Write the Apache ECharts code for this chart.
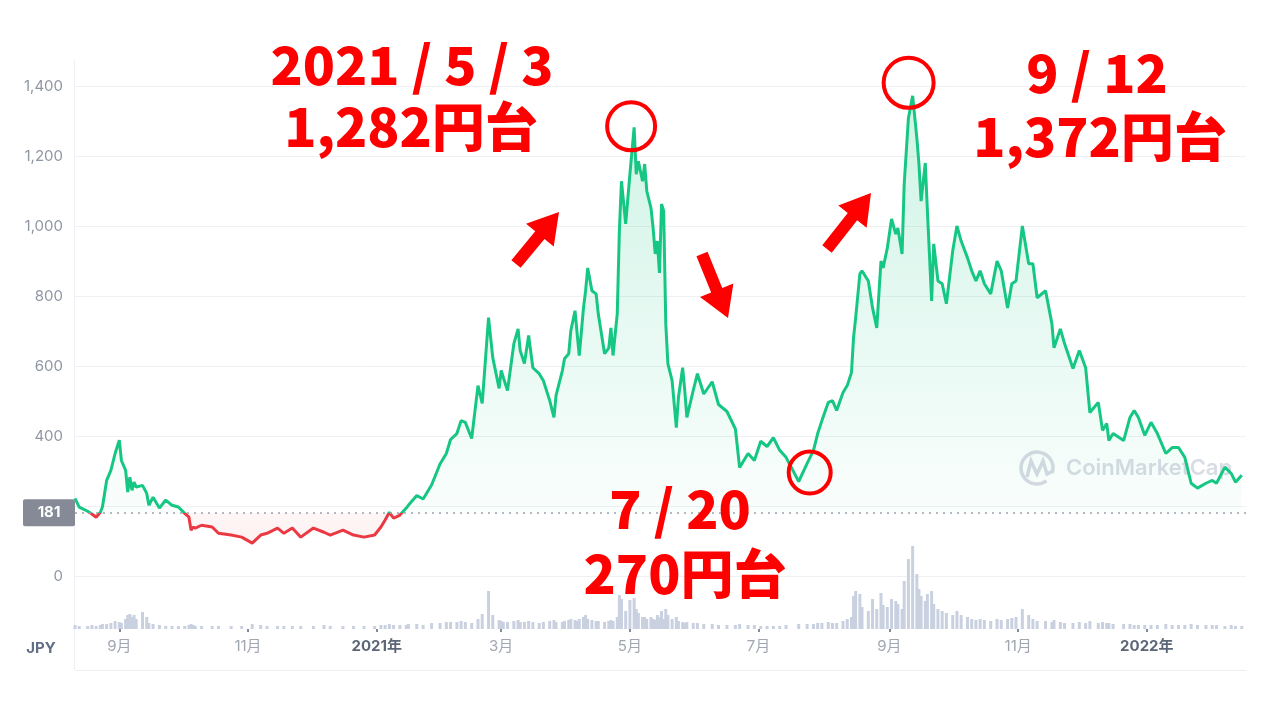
<!DOCTYPE html>
<html><head><meta charset="utf-8">
<script src="https://cdn.jsdelivr.net/npm/echarts@6/dist/echarts.min.js"></script>
<style>html,body{margin:0;padding:0;background:#fff}#c{width:1280px;height:720px}</style>
</head><body><div id="c"></div>
<script>
const dates = [
'2020-08-11','2020-08-13','2020-08-17','2020-08-19','2020-08-21','2020-08-23','2020-08-24','2020-08-26','2020-08-28','2020-08-30',
'2020-09-01','2020-09-02','2020-09-04','2020-09-05','2020-09-06','2020-09-07','2020-09-08','2020-09-09','2020-09-12','2020-09-14','2020-09-15','2020-09-17',
'2020-09-20','2020-09-23','2020-09-26','2020-09-29','2020-10-02','2020-10-04',
'2020-10-05','2020-10-06','2020-10-07','2020-10-10','2020-10-15','2020-10-18','2020-10-24','2020-10-29','2020-11-03','2020-11-07','2020-11-10','2020-11-15','2020-11-18','2020-11-22','2020-11-26','2020-12-02','2020-12-07','2020-12-10','2020-12-16','2020-12-21','2020-12-26','2020-12-31',
'2021-01-03','2021-01-05','2021-01-07','2021-01-09','2021-01-12','2021-01-15','2021-01-16','2021-01-20','2021-01-23','2021-01-27','2021-01-31','2021-02-03','2021-02-05','2021-02-08',
'2021-02-10','2021-02-12','2021-02-15','2021-02-18','2021-02-20','2021-02-23','2021-02-25','2021-02-28','2021-03-01','2021-03-02','2021-03-04',
'2021-03-07','2021-03-09','2021-03-10','2021-03-12','2021-03-14','2021-03-16','2021-03-19','2021-03-21','2021-03-24','2021-03-26','2021-03-27','2021-03-30','2021-03-31','2021-04-02','2021-04-03','2021-04-05','2021-04-06','2021-04-07','2021-04-09','2021-04-10','2021-04-11','2021-04-13','2021-04-15','2021-04-16','2021-04-19','2021-04-21','2021-04-22','2021-04-23','2021-04-25',
'2021-04-26','2021-04-27','2021-04-29','2021-05-01','2021-05-03','2021-05-04','2021-05-05','2021-05-07','2021-05-08','2021-05-09','2021-05-11','2021-05-12','2021-05-13','2021-05-14','2021-05-15','2021-05-16','2021-05-17',
'2021-05-18','2021-05-19','2021-05-21','2021-05-23','2021-05-24','2021-05-26','2021-05-27','2021-05-28','2021-05-31','2021-06-02',
'2021-06-05','2021-06-09','2021-06-12','2021-06-16','2021-06-20','2021-06-22','2021-06-26','2021-06-29','2021-07-02','2021-07-05','2021-07-08','2021-07-11','2021-07-14','2021-07-20',
'2021-07-24','2021-07-27','2021-07-29','2021-07-31','2021-08-03','2021-08-05','2021-08-07','2021-08-10','2021-08-12','2021-08-14','2021-08-15','2021-08-16',
'2021-08-18','2021-08-19','2021-08-22','2021-08-24','2021-08-26','2021-08-28','2021-08-29','2021-08-31','2021-09-02','2021-09-04','2021-09-05','2021-09-07','2021-09-08','2021-09-10',
'2021-09-12','2021-09-14','2021-09-15','2021-09-16','2021-09-18','2021-09-19','2021-09-21','2021-09-22','2021-09-24','2021-09-26','2021-09-28',
'2021-10-01','2021-10-03','2021-10-05','2021-10-08','2021-10-10','2021-10-12','2021-10-14','2021-10-16','2021-10-19','2021-10-22','2021-10-24','2021-10-27','2021-10-29','2021-10-31',
'2021-11-03','2021-11-06','2021-11-08','2021-11-10','2021-11-14','2021-11-17','2021-11-18','2021-11-21','2021-11-23','2021-11-27','2021-11-30','2021-12-03',
'2021-12-05','2021-12-09','2021-12-11','2021-12-13','2021-12-14','2021-12-16','2021-12-21','2021-12-24','2021-12-26','2021-12-28','2021-12-31',
'2022-01-03','2022-01-06','2022-01-10','2022-01-13','2022-01-16','2022-01-19','2022-01-22','2022-01-25','2022-01-29','2022-02-01','2022-02-03','2022-02-07','2022-02-10','2022-02-12','2022-02-15'
];
const prices = [
222,197,185,177,168,182,197,273,302,350,
388,330,302,240,282,245,268,254,259,236,202,225,
194,217,202,197,179,168,
131,140,137,145,140,122,117,111,94,117,122,137,122,137,111,137,125,117,131,117,111,117,
140,160,182,165,174,194,202,230,220,260,320,350,390,407,
444,439,393,544,493,738,624,536,587,567,530,
664,706,644,607,687,595,578,558,501,453,516,587,621,635,701,758,692,630,766,815,880,815,806,749,635,652,709,630,749,
986,1128,1006,1148,1282,1148,1185,1128,1177,1100,1051,994,920,957,866,1063,1043,
721,607,558,424,510,595,530,453,530,578,
520,555,490,470,420,310,350,330,385,370,395,359,339,270,
322,359,407,444,496,501,473,524,544,581,681,738,
863,872,843,766,709,900,880,937,1020,977,994,920,1120,1308,
1372,1251,1177,1071,1180,1043,786,949,843,835,778,
929,1000,957,909,872,843,872,835,806,900,872,766,835,843,
1000,892,892,795,815,721,652,706,664,593,644,595,
467,496,416,436,387,407,387,453,473,453,402,
439,407,350,367,367,339,265,251,265,273,265,311,293,268,288
];
const volumes = [
4,3,3,4,3,4,5,5,6,8,
7,6,10,14,15,12,14,10,17,12,6,5,
4,3,3,3,3,4,
5,4,3,3,3,3,3,3,5,4,3,3,3,3,3,3,4,3,3,3,3,3,
4,4,5,4,4,4,5,5,4,6,6,7,7,7,
8,7,6,10,15,38,14,9,8,7,7,
8,9,7,7,8,7,6,7,8,9,7,7,8,9,10,9,8,10,12,14,10,9,8,8,7,8,9,8,12,
34,30,18,29,31,20,16,12,12,10,12,10,9,14,12,18,10,
20,14,10,12,8,7,6,7,6,6,
5,5,4,4,4,5,4,4,3,3,3,3,4,5,
5,5,6,6,7,6,6,8,10,12,33,38,
35,22,18,30,20,36,24,22,30,28,25,20,48,70,
83,55,40,33,28,35,38,25,20,18,16,
14,18,14,12,10,9,10,9,8,10,9,10,11,12,
20,14,10,8,8,7,9,7,6,6,7,6,
8,6,7,6,6,5,5,5,4,4,4,
4,4,5,4,4,4,5,4,4,4,4,3,4,3,3
];
const baseline = 181;
const tickDates = ['2020-09-01','2020-11-01','2021-01-01','2021-03-01','2021-05-01','2021-07-01','2021-09-01','2021-11-01','2022-01-01'];
const tickLabels = ['9月','11月','2021年','3月','5月','7月','9月','11月','2022年'];
const xRange = ['2020-08-11','2022-02-17'];
const notes = [
  {date:'2021-05-03', value:1282, line1:'2021 / 5 / 3', line2:'1,282円台'},
  {date:'2021-09-12', value:1372, line1:'9 / 12', line2:'1,372円台'},
  {date:'2021-07-20', value:270, line1:'7 / 20', line2:'270円台'}
];

function ts(s){const p=s.split('-');return Date.UTC(+p[0],+p[1]-1,+p[2]);}
const tickTs = tickDates.map(ts);
const labelMap = {}; tickTs.forEach((t,i)=>labelMap[t]=tickLabels[i]);

const chart = echarts.init(document.getElementById('c'), null, {renderer:'canvas'});
const GREEN='#16c784', RED='#ea3943';
const FONT='Inter, "Noto Sans CJK JP", sans-serif';

chart.setOption({
  animation:false,
  backgroundColor:'#ffffff',
  grid:[
    {left:75,right:34,top:86,bottom:144},
    {left:75,right:34,top:540,bottom:91}
  ],
  xAxis:[
    {type:'value',gridIndex:0,min:ts(xRange[0]),max:ts(xRange[1]),show:false,splitLine:{show:false}},
    {type:'value',gridIndex:1,min:ts(xRange[0]),max:ts(xRange[1]),
     axisLine:{show:false},splitLine:{show:false},
     axisTick:{show:true,customValues:tickTs,length:3,lineStyle:{color:'#58667e',width:1.5}},
     axisLabel:{customValues:tickTs,margin:10,fontSize:15,fontFamily:FONT,color:'#a0a6b2',
       formatter:function(v){const l=labelMap[v]||'';return l.indexOf('年')>=0?'{y|'+l+'}':l;},
       rich:{y:{fontSize:15,fontWeight:'bold',color:'#5d6677',fontFamily:FONT}}}}
  ],
  yAxis:[
    {type:'value',gridIndex:0,min:0,max:1400,interval:200,
     axisLine:{show:false},axisTick:{show:false},
     axisLabel:{margin:12,fontSize:15,fontFamily:FONT,color:'#8f96a3',
       formatter:function(v){return v===200?'':v.toLocaleString('en-US');}},
     splitLine:{lineStyle:{color:'#eef0f4',width:1}}},
    {type:'value',gridIndex:1,min:0,max:89,show:false}
  ],
  series:[
    {id:'price',type:'line',xAxisIndex:0,yAxisIndex:0,showSymbol:false,symbol:'none',
     data:dates.map((d,i)=>[ts(d),prices[i]]),
     lineStyle:{width:3,color:GREEN},
     markLine:{silent:true,symbol:['none','none'],label:{show:false},
       lineStyle:{type:[2,5],color:'#9aa1ad',width:1.5},data:[{yAxis:baseline}]},
     z:3},
    {type:'bar',xAxisIndex:1,yAxisIndex:1,silent:true,barWidth:3,
     data:dates.map((d,i)=>[ts(d),volumes[i]]),
     itemStyle:{color:'#c9d1e0'},z:1}
  ]
});

// colours split at the baseline value, positioned via the axis scale
const topPx = chart.convertToPixel({gridIndex:0},[ts(xRange[0]),1400])[1];
const basePx = chart.convertToPixel({gridIndex:0},[ts(xRange[0]),baseline])[1];
const zeroPx = chart.convertToPixel({gridIndex:0},[ts(xRange[0]),0])[1];
const f = (basePx-topPx)/(zeroPx-topPx);
chart.setOption({series:[{id:'price',
  lineStyle:{color:{type:'linear',x:0,y:topPx,x2:0,y2:zeroPx,global:true,colorStops:[
    {offset:0,color:GREEN},{offset:f,color:GREEN},{offset:f+0.0001,color:RED},{offset:1,color:RED}]}},
  areaStyle:{origin:baseline,color:{type:'linear',x:0,y:topPx,x2:0,y2:zeroPx,global:true,colorStops:[
    {offset:0,color:'rgba(22,199,132,0.30)'},
    {offset:f,color:'rgba(22,199,132,0.03)'},
    {offset:f+0.0001,color:'rgba(234,57,67,0.07)'},
    {offset:1,color:'rgba(234,57,67,0.12)'}]}}
}]});

function arrowPoints(tail,tip,bw,hl,hw){
  const dx=tip[0]-tail[0],dy=tip[1]-tail[1],L=Math.hypot(dx,dy),ux=dx/L,uy=dy/L,px=-uy,py=ux;
  const bx=tip[0]-ux*hl,by=tip[1]-uy*hl;
  return [[tail[0]+px*bw/2,tail[1]+py*bw/2],[bx+px*bw/2,by+py*bw/2],[bx+px*hw/2,by+py*hw/2],tip,
          [bx-px*hw/2,by-py*hw/2],[bx-px*bw/2,by-py*bw/2],[tail[0]-px*bw/2,tail[1]-py*bw/2]];
}

const notePx = notes.map(n=>chart.convertToPixel({gridIndex:0},[ts(n.date),n.value]));
const circleOffsets=[[-3,-1],[-4,-13],[11,-9]];
const circleR=[24,25,21];
const textPos=[[[412,65],[411,127]],[[1097,73],[1100,137]],[[680,509],[685,574]]];
const annFont='900 53px "Noto Sans CJK JP", sans-serif';
const RED2='#ff0000';

const graphics=[
  {type:'line',shape:{x1:74.5,y1:60,x2:74.5,y2:670},style:{stroke:'#eceff3',lineWidth:1},silent:true,z:0},
  {type:'line',shape:{x1:75,y1:670.5,x2:1246,y2:670.5},style:{stroke:'#eceff3',lineWidth:1},silent:true,z:0},
  {type:'text',style:{text:'JPY',x:41,y:648,textAlign:'center',textVerticalAlign:'middle',fill:'#616e85',font:'bold 15px '+FONT},silent:true},
  {type:'rect',shape:{x:23,y:basePx-13.5,width:52,height:27,r:2},style:{fill:'#858a96'},silent:true,z:10},
  {type:'text',style:{text:String(baseline),x:49,y:basePx,textAlign:'center',textVerticalAlign:'middle',fill:'#ffffff',font:'bold 15px '+FONT},silent:true,z:11},
  {type:'arc',shape:{cx:1037,cy:468,r:16,startAngle:0.3*Math.PI,endAngle:2.1*Math.PI},style:{stroke:'#d6dae3',lineWidth:3.5,fill:'none'},silent:true,z:0},
  {type:'polyline',shape:{points:[[1027,477],[1031,461],[1037,474],[1043,461],[1047,474],[1053,471]]},style:{stroke:'#d6dae3',lineWidth:3.5,fill:'none'},silent:true,z:0},
  {type:'text',style:{text:'CoinMarketCap',x:1066,y:468,textAlign:'left',textVerticalAlign:'middle',fill:'#d8dce5',font:'600 22px '+FONT},silent:true,z:0}
];
notes.forEach((n,i)=>{
  graphics.push({type:'circle',shape:{cx:notePx[i][0]+circleOffsets[i][0],cy:notePx[i][1]+circleOffsets[i][1],r:circleR[i]},
    style:{stroke:RED2,lineWidth:4,fill:'none'},silent:true,z:20});
  graphics.push({type:'text',style:{text:n.line1,x:textPos[i][0][0],y:textPos[i][0][1],textAlign:'center',textVerticalAlign:'middle',fill:RED2,font:annFont},silent:true,z:20});
  graphics.push({type:'text',style:{text:n.line2,x:textPos[i][1][0],y:textPos[i][1][1],textAlign:'center',textVerticalAlign:'middle',fill:RED2,font:annFont},silent:true,z:20});
});
[[[516,264],[559,212]],[[702,254],[728,318]],[[827,249],[871,193]]].forEach(a=>{
  graphics.push({type:'polygon',shape:{points:arrowPoints(a[0],a[1],12,30,36)},style:{fill:RED2},silent:true,z:20});
});
chart.setOption({graphic:graphics});
</script>
</body></html>
